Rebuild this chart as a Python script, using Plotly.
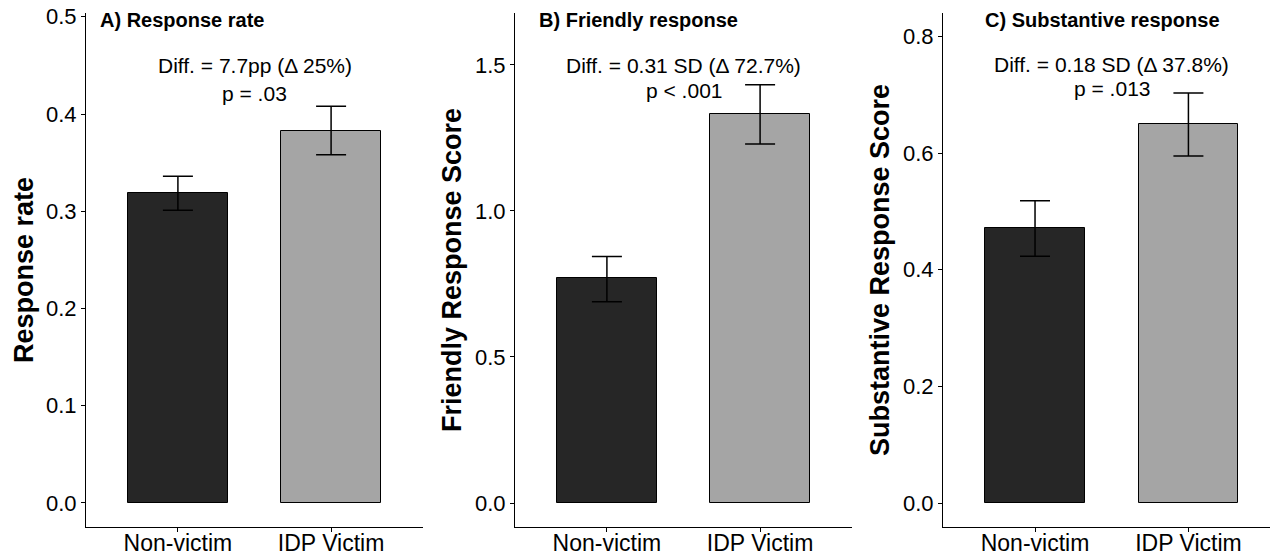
import plotly.graph_objects as go

# ---------------- data ----------------
groups = ["Non-victim", "IDP Victim"]

rate_mean = [0.319, 0.383]
rate_low = [0.301, 0.358]
rate_high = [0.336, 0.408]

friendly_mean = [0.771, 1.332]
friendly_low = [0.689, 1.229]
friendly_high = [0.844, 1.432]

subst_mean = [0.471, 0.650]
subst_low = [0.423, 0.595]
subst_high = [0.518, 0.703]

panel_titles = ["A) Response rate", "B) Friendly response", "C) Substantive response"]
y_titles = ["Response rate", "Friendly Response Score", "Substantive Response Score"]
diff_texts = ["Diff. = 7.7pp (\u0394 25%)", "Diff. = 0.31 SD (\u0394 72.7%)", "Diff. = 0.18 SD (\u0394 37.8%)"]
p_texts = ["p = .03", "p < .001", "p = .013"]
diff_y = [0.450, 1.497, 0.751]
p_y = [0.4216, 1.414, 0.711]

y_tickvals = [[0.0, 0.1, 0.2, 0.3, 0.4, 0.5], [0.0, 0.5, 1.0, 1.5], [0.0, 0.2, 0.4, 0.6, 0.8]]
y_ticktext = [["0.0", "0.1", "0.2", "0.3", "0.4", "0.5"], ["0.0", "0.5", "1.0", "1.5"],
              ["0.0", "0.2", "0.4", "0.6", "0.8"]]

# ---------------- layout geometry ----------------
W, H = 1278, 554
OFF = 8                      # page body margin
FW, FH = W - OFF, H - OFF    # figure size
FONT = "Liberation Sans, Arial, Helvetica, sans-serif"
bar_colors = ["#262626", "#a5a5a5"]


def px(x):
    return (x - OFF) / FW


def py(y):
    return 1 - (y - OFF) / FH


y_ranges = [[-0.0247, 0.5039], [-0.0822, 1.678], [-0.0411, 0.840]]
x_ranges = [[-0.6, 1.6], [-0.6, 1.6], [-0.6, 1.584]]
x_domains = [[px(86), px(423)], [px(515), px(852)], [px(943), 1.0]]
y_domain = [py(527), py(13)]
ytitle_x = [px(24), px(452), px(880)]
ptitle_x = [px(98), px(537), px(983)]

means = [rate_mean, friendly_mean, subst_mean]
lows = [rate_low, friendly_low, subst_low]
highs = [rate_high, friendly_high, subst_high]

fig = go.Figure()
annotations = []
for i in range(3):
    sfx = "" if i == 0 else str(i + 1)
    m, lo, hi = means[i], lows[i], highs[i]
    fig.add_trace(go.Bar(
        x=groups, y=m,
        width=0.65,
        marker=dict(color=bar_colors, line=dict(color="black", width=1)),
        error_y=dict(type="data", symmetric=False,
                     array=[h - v for h, v in zip(hi, m)],
                     arrayminus=[v - l for v, l in zip(m, lo)],
                     color="black", thickness=1.5, width=15),
        xaxis="x" + sfx, yaxis="y" + sfx,
        showlegend=False, hoverinfo="skip",
    ))
    fig.layout["xaxis" + sfx] = dict(
        domain=x_domains[i], range=x_ranges[i], anchor="y" + sfx,
        showline=True, linecolor="black", linewidth=1,
        ticks="outside", ticklen=4, tickcolor="black", tickwidth=1,
        showgrid=False, zeroline=False, automargin=False,
        tickfont=dict(family=FONT, size=23, color="black"),
        ticklabelstandoff=-9, ticklabeloverflow="allow",
        type="category", fixedrange=True,
    )
    fig.layout["yaxis" + sfx] = dict(
        domain=y_domain, range=y_ranges[i], anchor="x" + sfx,
        showline=True, linecolor="black", linewidth=1,
        ticks="outside", ticklen=4, tickcolor="black", tickwidth=1,
        showgrid=False, zeroline=False, automargin=False,
        tickvals=y_tickvals[i], ticktext=y_ticktext[i],
        tickfont=dict(family=FONT, size=22, color="black"),
        ticklabeloverflow="allow",
        fixedrange=True,
    )
    xr, yr = "x" + sfx, "y" + sfx
    annotations.append(dict(x=0.5, y=diff_y[i], xref=xr, yref=yr, text=diff_texts[i],
                            showarrow=False, xanchor="center", yanchor="middle",
                            font=dict(family=FONT, size=21, color="black")))
    annotations.append(dict(x=0.5, y=p_y[i], xref=xr, yref=yr, text=p_texts[i],
                            showarrow=False, xanchor="center", yanchor="middle",
                            font=dict(family=FONT, size=21, color="black")))
    annotations.append(dict(x=ptitle_x[i], y=py(20), xref="paper", yref="paper",
                            text="<b>" + panel_titles[i] + "</b>",
                            showarrow=False, xanchor="left", yanchor="middle",
                            font=dict(family=FONT, size=20, color="black")))
    annotations.append(dict(x=ytitle_x[i], y=py(270), xref="paper", yref="paper",
                            text="<b>" + y_titles[i] + "</b>", textangle=-90,
                            showarrow=False, xanchor="center", yanchor="middle",
                            font=dict(family=FONT, size=27, color="black")))

fig.update_layout(
    width=FW, height=FH,
    margin=dict(l=0, r=0, t=0, b=0, autoexpand=False),
    paper_bgcolor="white", plot_bgcolor="white",
    annotations=annotations,
    bargap=0,
    template="none",
)

fig.write_html("out.html")
